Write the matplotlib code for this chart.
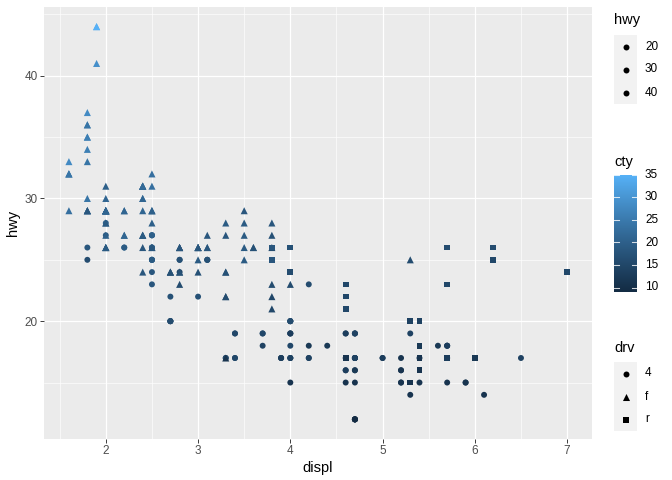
import numpy as np
import matplotlib
matplotlib.use("Agg")
import matplotlib.pyplot as plt

plt.rcParams['font.family'] = ['Liberation Sans', 'DejaVu Sans']

# ---- data (mpg) ----
displ = [
    1.8,1.8,2.0,2.0,2.8,2.8,3.1,1.8,1.8,2.0,2.0,2.8,2.8,3.1,3.1,2.8,3.1,4.2,
    5.3,5.3,5.3,5.7,6.0,5.7,5.7,6.2,6.2,7.0,5.3,5.3,5.7,6.5,2.4,2.4,3.1,3.5,3.6,
    2.4,3.0,3.3,3.3,3.3,3.3,3.3,3.8,3.8,3.8,4.0,
    3.7,3.7,3.9,3.9,4.7,4.7,4.7,5.2,5.2,
    3.9,4.7,4.7,4.7,5.2,5.7,5.9,
    4.7,4.7,4.7,4.7,4.7,4.7,5.2,5.2,5.7,5.9,
    4.6,5.4,5.4, 4.0,4.0,4.0,4.0,4.6,5.0, 4.2,4.2,4.6,4.6,4.6,5.4,5.4,
    3.8,3.8,4.0,4.0,4.6,4.6,4.6,4.6,5.4,
    1.6,1.6,1.6,1.6,1.6,1.8,1.8,1.8,2.0,
    2.4,2.4,2.4,2.4,2.5,2.5,3.3, 2.0,2.0,2.0,2.0,2.7,2.7,2.7,
    3.0,3.7,4.0,4.7,4.7,4.7,5.7,6.1,
    4.0,4.2,4.4,4.6,
    5.4,5.4,5.4,
    4.0,4.0,4.6,5.0,
    2.4,2.4,2.5,2.5,3.5,3.5, 3.0,3.0,3.5, 3.3,3.3,4.0,5.6,
    3.1,3.8,3.8,3.8,5.3,
    2.5,2.5,2.5,2.5,2.5,2.5,2.2,2.2,2.5,2.5,2.5,2.5,2.5,2.5,
    2.7,2.7,3.4,3.4,4.0,4.7, 2.2,2.2,2.4,2.4,3.0,3.0,3.5,
    2.2,2.2,2.4,2.4,3.0,3.0,3.3, 1.8,1.8,1.8,1.8,1.8, 4.7,5.7,
    2.7,2.7,2.7,3.4,3.4,4.0,4.0,
    2.0,2.0,2.0,2.0,2.8, 1.9,2.0,2.0,2.0,2.0,2.5,2.5,2.8,2.8,
    1.9,1.9,2.0,2.0,2.5,2.5, 1.8,1.8,2.0,2.0,2.8,2.8,3.6]

cty = [
    18,21,20,21,16,18,18,18,16,20,19,15,17,17,15,15,17,16,
    14,11,14,13,12,16,15,16,15,15,14,11,11,14,19,22,18,18,17,
    18,17,16,16,17,17,11,15,15,16,16,
    15,14,13,14,14,14,9,11,11,
    13,13,9,13,11,13,11,
    12,9,13,13,12,9,11,11,13,11,
    11,11,12, 14,15,14,13,13,13, 14,14,13,13,13,11,13,
    18,18,17,16,15,15,15,15,14,
    28,24,25,23,24,26,25,24,21,
    18,18,21,21,18,18,19, 19,19,20,20,17,16,17,
    17,15,15,14,9,14,13,11,
    11,12,12,11,
    11,11,12,
    14,13,13,13,
    21,19,23,23,19,19, 18,19,19, 14,15,14,12,
    18,16,17,18,16,
    18,18,20,19,20,18,21,19,19,19,20,20,19,20,
    15,16,15,15,16,14, 21,21,21,21,18,18,19,
    21,21,21,22,18,18,18, 24,24,26,28,26, 11,13,
    15,16,17,15,15,15,16,
    21,19,21,22,17, 33,21,19,22,21,21,21,16,17,
    35,29,21,19,20,20, 21,18,19,21,16,18,17]

hwy = [
    29,29,31,30,26,26,27,26,25,28,27,25,25,25,25,24,25,23,
    20,15,20,17,17,26,23,26,25,24,19,14,15,17,27,30,26,29,26,
    24,24,22,22,24,24,17,22,21,23,23,
    19,18,17,17,19,19,12,17,15,
    17,17,12,17,16,18,15,
    16,12,17,17,16,12,15,16,17,15,
    17,17,18, 17,19,17,19,19,17, 17,17,16,16,17,15,17,
    26,25,26,24,21,22,23,22,20,
    33,32,32,29,32,34,36,36,29,
    26,27,30,31,26,26,28, 26,29,28,27,24,24,24,
    22,19,20,17,12,19,18,14,
    15,18,18,15,
    17,16,18,
    17,19,19,17,
    29,27,31,32,27,26, 26,25,25, 17,17,20,18,
    26,26,27,28,25,
    25,24,27,25,26,23,26,26,26,26,25,27,25,27,
    20,20,19,17,20,17, 29,27,31,31,26,26,28,
    27,29,31,31,26,26,27, 30,33,35,37,35, 15,18,
    20,20,22,17,19,18,20,
    29,26,29,29,24, 44,29,26,29,29,29,29,23,24,
    44,41,29,26,28,29, 29,29,28,29,26,26,26]

drv = list(
    "f" * 7 + "4" * 11 +
    "r" * 10 + "4" * 4 + "f" * 5 +
    "f" * 11 + "4" * 26 +
    "r" * 3 + "4" * 13 + "r" * 9 +
    "f" * 9 +
    "f" * 14 +
    "4" * 8 +
    "4" * 4 +
    "r" * 3 +
    "4" * 4 +
    "f" * 9 + "4" * 4 +
    "f" * 5 +
    "4" * 14 +
    "4" * 6 + "f" * 19 + "4" * 9 +
    "f" * 27)

drv_levels = ["4", "f", "r"]
hwy_breaks = [20, 30, 40]
cty_breaks = [10, 15, 20, 25, 30, 35]
x_breaks = [2, 3, 4, 5, 6, 7]
y_breaks = [20, 30, 40]

displ = np.array(displ); cty = np.array(cty); hwy = np.array(hwy); drv = np.array(drv)

# ---- colour scale (ggplot default gradient, Lab interpolation) ----
def srgb_to_lab(rgb):
    rgb = np.asarray(rgb, float)
    lin = np.where(rgb <= 0.04045, rgb / 12.92, ((rgb + 0.055) / 1.055) ** 2.4)
    M = np.array([[0.4124564, 0.3575761, 0.1804375],
                  [0.2126729, 0.7151522, 0.0721750],
                  [0.0193339, 0.1191920, 0.9503041]])
    xyz = lin @ M.T
    wp = np.array([0.95047, 1.0, 1.08883])
    t = xyz / wp
    f = np.where(t > (6/29)**3, np.cbrt(t), t / (3 * (6/29)**2) + 4/29)
    L = 116 * f[..., 1] - 16
    a = 500 * (f[..., 0] - f[..., 1])
    b = 200 * (f[..., 1] - f[..., 2])
    return np.stack([L, a, b], -1)

def lab_to_srgb(lab):
    lab = np.asarray(lab, float)
    fy_ = (lab[..., 0] + 16) / 116
    fx_ = fy_ + lab[..., 1] / 500
    fz_ = fy_ - lab[..., 2] / 200
    def finv(f):
        return np.where(f > 6/29, f**3, 3 * (6/29)**2 * (f - 4/29))
    wp = np.array([0.95047, 1.0, 1.08883])
    xyz = np.stack([finv(fx_), finv(fy_), finv(fz_)], -1) * wp
    Minv = np.array([[3.2404542, -1.5371385, -0.4985314],
                     [-0.9692660, 1.8760108, 0.0415560],
                     [0.0556434, -0.2040259, 1.0572252]])
    lin = np.clip(xyz @ Minv.T, 0, 1)
    rgb = np.where(lin <= 0.0031308, 12.92 * lin, 1.055 * lin ** (1/2.4) - 0.055)
    return np.clip(rgb, 0, 1)

low = np.array([0x13, 0x2B, 0x43]) / 255
high = np.array([0x56, 0xB1, 0xF7]) / 255
lab_low, lab_high = srgb_to_lab(low), srgb_to_lab(high)
cmin, cmax = cty.min(), cty.max()

def cmap(v):
    t = (np.asarray(v, float) - cmin) / (cmax - cmin)
    t = np.clip(t, 0, 1)[..., None]
    return lab_to_srgb(lab_low + t * (lab_high - lab_low))

# ---- figure ----
W, H = 672, 480
fig = plt.figure(figsize=(7, 5), dpi=96)
def fx(x): return x / W
def fy(y): return 1 - y / H

ax = fig.add_axes([fx(44), fy(439), fx(592) - fx(44), fy(7) - fy(439)])
ax.set_facecolor("#EBEBEB")
for s in ax.spines.values():
    s.set_visible(False)

xr = displ.max() - displ.min(); yr = hwy.max() - hwy.min()
ax.set_xlim(displ.min() - 0.05 * xr, displ.max() + 0.05 * xr)
ax.set_ylim(hwy.min() - 0.05 * yr, hwy.max() + 0.05 * yr)
ax.set_xticks(x_breaks)
ax.set_yticks(y_breaks)
ax.set_xticks([1.5, 2.5, 3.5, 4.5, 5.5, 6.5], minor=True)
ax.set_yticks([15, 25, 35, 45], minor=True)
ax.grid(which="major", color="white", linewidth=0.9)
ax.grid(which="minor", color="white", linewidth=0.45)
ax.set_axisbelow(True)
ax.tick_params(which="major", length=2.75, width=0.7, color="#333333",
               labelcolor="#4D4D4D", labelsize=8.8, pad=2)
ax.tick_params(which="minor", length=0)
ax.set_xlabel("displ", fontsize=11, labelpad=3)
ax.set_ylabel("hwy", fontsize=11, labelpad=3)

markers = {"4": ("o", 20), "f": ("^", 28), "r": ("s", 18)}
for lv in drv_levels:
    m = drv == lv
    mk, sz = markers[lv]
    ax.scatter(displ[m], hwy[m], c=cmap(cty[m]), marker=mk, s=sz,
               linewidths=0, zorder=3)

# ---- legends ----
def key_box(y0, n):
    lax = fig.add_axes([fx(614), fy(y0 + 23 * n), fx(23), 23 * n / H])
    lax.set_xlim(0, 1); lax.set_ylim(0, n)
    lax.set_facecolor("#F2F2F2")
    lax.set_xticks([]); lax.set_yticks([])
    for s in lax.spines.values():
        s.set_visible(False)
    return lax

# hwy (size)
fig.text(fx(614), fy(20), "hwy", fontsize=11, va="center", ha="left")
lax = key_box(35, 3)
for i, b in enumerate(hwy_breaks):
    lax.scatter([0.5], [3 - i - 0.5], s=20, color="black", marker="o", linewidths=0)
    fig.text(fx(645), fy(35 + 23 * i + 11.5), str(b), fontsize=8.8, va="center", ha="left")

# cty (colourbar)
fig.text(fx(614), fy(162), "cty", fontsize=11, va="center", ha="left")
top_px, bot_px = 175, 292
cax = fig.add_axes([fx(614), fy(bot_px), fx(23), (bot_px - top_px) / H])
grad = np.linspace(cmin, cmax, 300)
cax.imshow(cmap(grad)[:, None, :], aspect="auto", origin="lower",
           extent=[0, 1, cmin, cmax])
cax.set_xlim(0, 1); cax.set_ylim(cmin, cmax)
cax.set_xticks([]); cax.set_yticks([])
for s in cax.spines.values():
    s.set_visible(False)
for b in cty_breaks:
    cax.plot([0, 0.2], [b, b], color="white", lw=0.8, alpha=0.8)
    cax.plot([0.8, 1], [b, b], color="white", lw=0.8, alpha=0.8)
    ypx = bot_px - (b - cmin) / (cmax - cmin) * (bot_px - top_px)
    fig.text(fx(645), fy(ypx), str(b), fontsize=8.8, va="center", ha="left")

# drv (shape)
fig.text(fx(614), fy(348), "drv", fontsize=11, va="center", ha="left")
lax = key_box(362, 3)
for i, lv in enumerate(drv_levels):
    mk, sz = markers[lv]
    lax.scatter([0.5], [3 - i - 0.5], s=sz, color="black", marker=mk, linewidths=0)
    fig.text(fx(645), fy(362 + 23 * i + 11.5), lv, fontsize=8.8, va="center", ha="left")

fig.savefig("out.png", dpi=96)
